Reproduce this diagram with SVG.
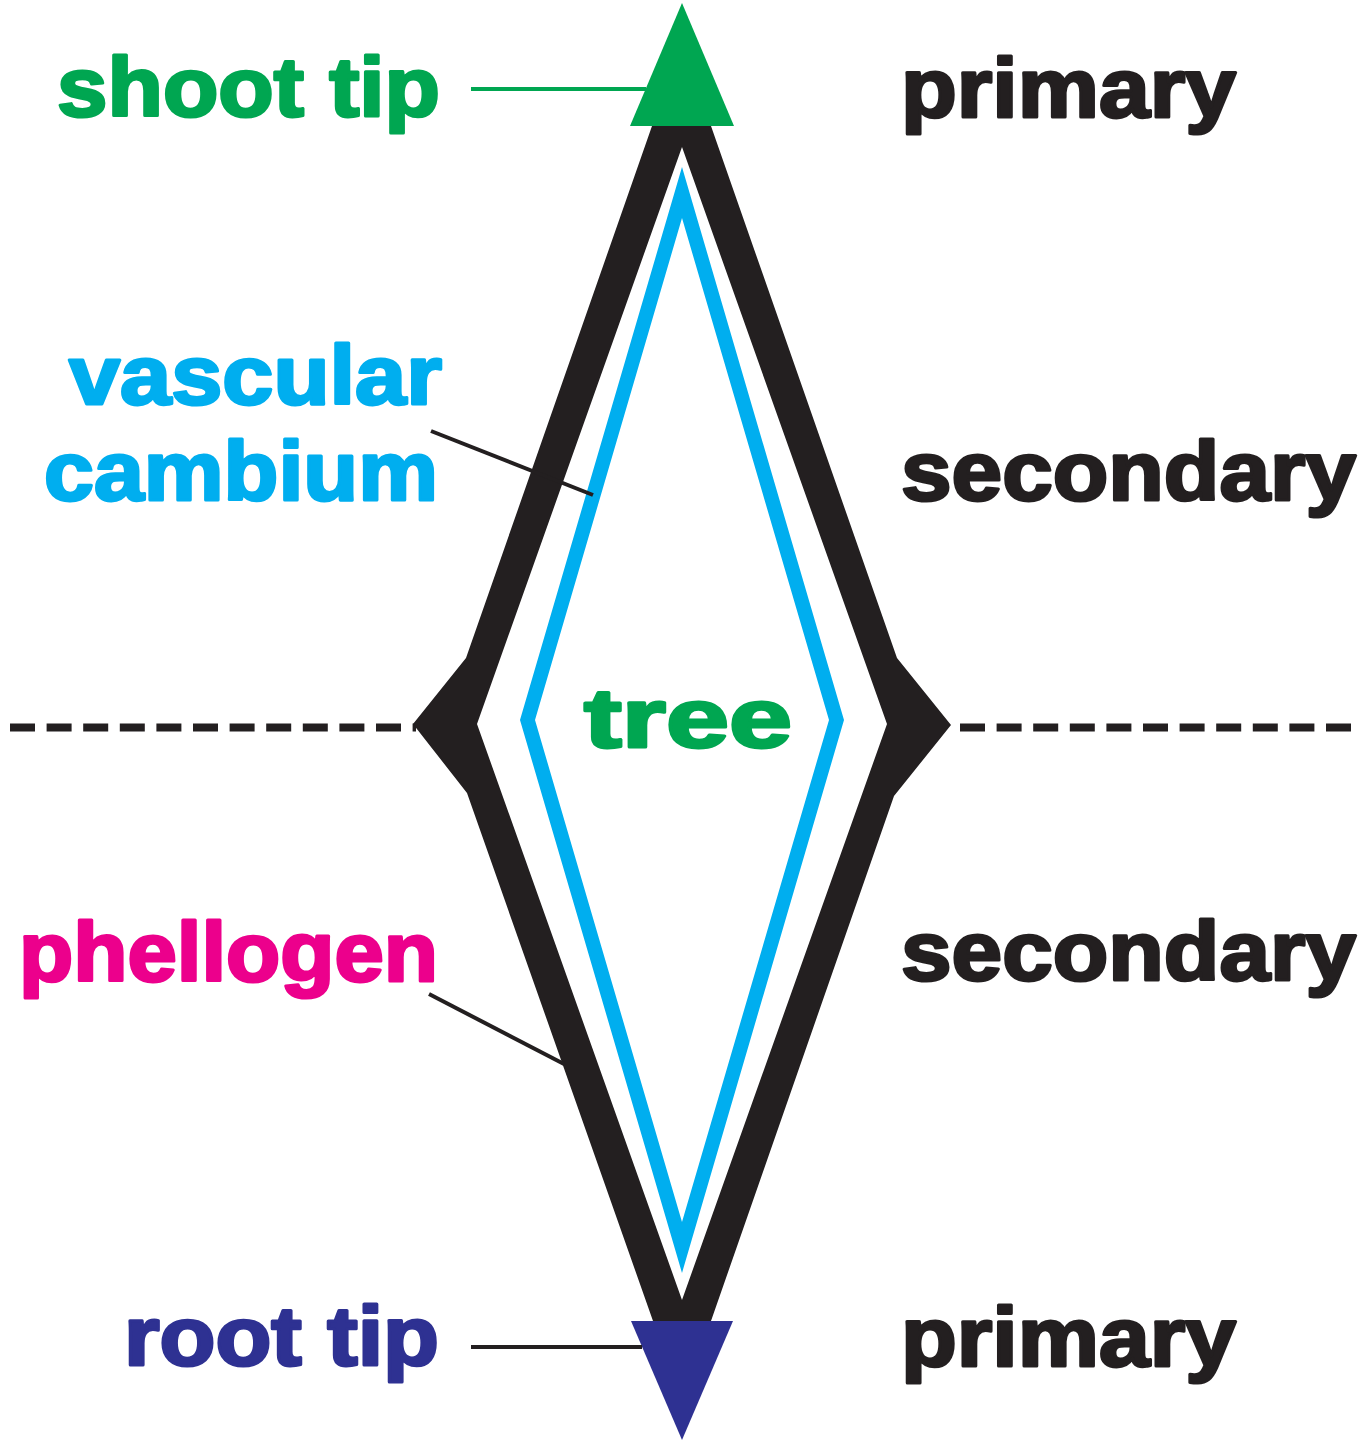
<svg xmlns="http://www.w3.org/2000/svg" width="1372" height="1441" viewBox="0 0 1372 1441">
<style>
.lbl{font-family:"Liberation Sans",Arial,sans-serif;font-weight:bold;font-size:83px;stroke-width:3;stroke-linejoin:round}
.k{fill:#231f20;stroke:#231f20}
.g{fill:#00a651;stroke:#00a651}
.b{fill:#00aeef;stroke:#00aeef}
.m{fill:#ec008c;stroke:#ec008c}
.n{fill:#2e3192;stroke:#2e3192}
.lead{stroke-width:4;fill:none}
.dash{stroke:#231f20;stroke-width:8;stroke-dasharray:25 11.6;fill:none}
</style>
<rect width="1372" height="1441" fill="#fff"/>
<g id="divider">
<line class="dash" x1="10" y1="727.5" x2="416" y2="727.5"/>
<line class="dash" x1="960" y1="727.5" x2="1356" y2="727.5"/>
</g>
<g id="tree-body">
<path fill="#231f20" fill-rule="evenodd" d="M652,126 L711,126 L897,658 L951,725 L894,796 L711,1321 L653,1321 L467,793 L413,724 L466,658 Z M682,147 L477,724 L682,1300 L887,724 Z"/>
</g>
<g id="vascular-cambium-shape">
<path fill="#00aeef" fill-rule="evenodd" d="M682,167 L844,720 L682,1273 L520,720 Z M682,218 L535,720 L682,1222 L829,720 Z"/>
</g>
<g id="shoot-tip-marker">
<polygon fill="#00a651" points="682,3 734,126 630,126"/>
</g>
<g id="root-tip-marker">
<polygon fill="#2e3192" points="631,1321 733,1321 682,1440"/>
</g>
<g id="connectors">
<line class="lead" stroke="#00a651" x1="471" y1="89" x2="646" y2="89"/>
<line class="lead" stroke="#231f20" x1="431" y1="431" x2="593" y2="495"/>
<line class="lead" stroke="#231f20" x1="429" y1="994" x2="564" y2="1064"/>
<line class="lead" stroke="#231f20" x1="471" y1="1347" x2="642" y2="1347"/>
</g>
<g id="label-shoot-tip"><text class="lbl g" x="57" y="116" textLength="383" lengthAdjust="spacingAndGlyphs">shoot tip</text></g>
<g id="label-vascular-cambium">
<text class="lbl b" x="69" y="404" textLength="373" lengthAdjust="spacingAndGlyphs">vascular</text>
<text class="lbl b" x="44" y="500" textLength="394" lengthAdjust="spacingAndGlyphs">cambium</text>
</g>
<g id="label-phellogen"><text class="lbl m" x="19" y="981" textLength="419" lengthAdjust="spacingAndGlyphs">phellogen</text></g>
<g id="label-root-tip"><text class="lbl n" x="124" y="1365" textLength="315" lengthAdjust="spacingAndGlyphs">root tip</text></g>
<g id="label-tree"><text class="lbl g" x="584" y="747" textLength="208" lengthAdjust="spacingAndGlyphs">tree</text></g>
<g id="label-primary-top"><text class="lbl k" x="901" y="117" textLength="335" lengthAdjust="spacingAndGlyphs">primary</text></g>
<g id="label-secondary-top"><text class="lbl k" x="901" y="500" textLength="455" lengthAdjust="spacingAndGlyphs">secondary</text></g>
<g id="label-secondary-bottom"><text class="lbl k" x="901" y="980" textLength="455" lengthAdjust="spacingAndGlyphs">secondary</text></g>
<g id="label-primary-bottom"><text class="lbl k" x="901" y="1366" textLength="335" lengthAdjust="spacingAndGlyphs">primary</text></g>
</svg>
